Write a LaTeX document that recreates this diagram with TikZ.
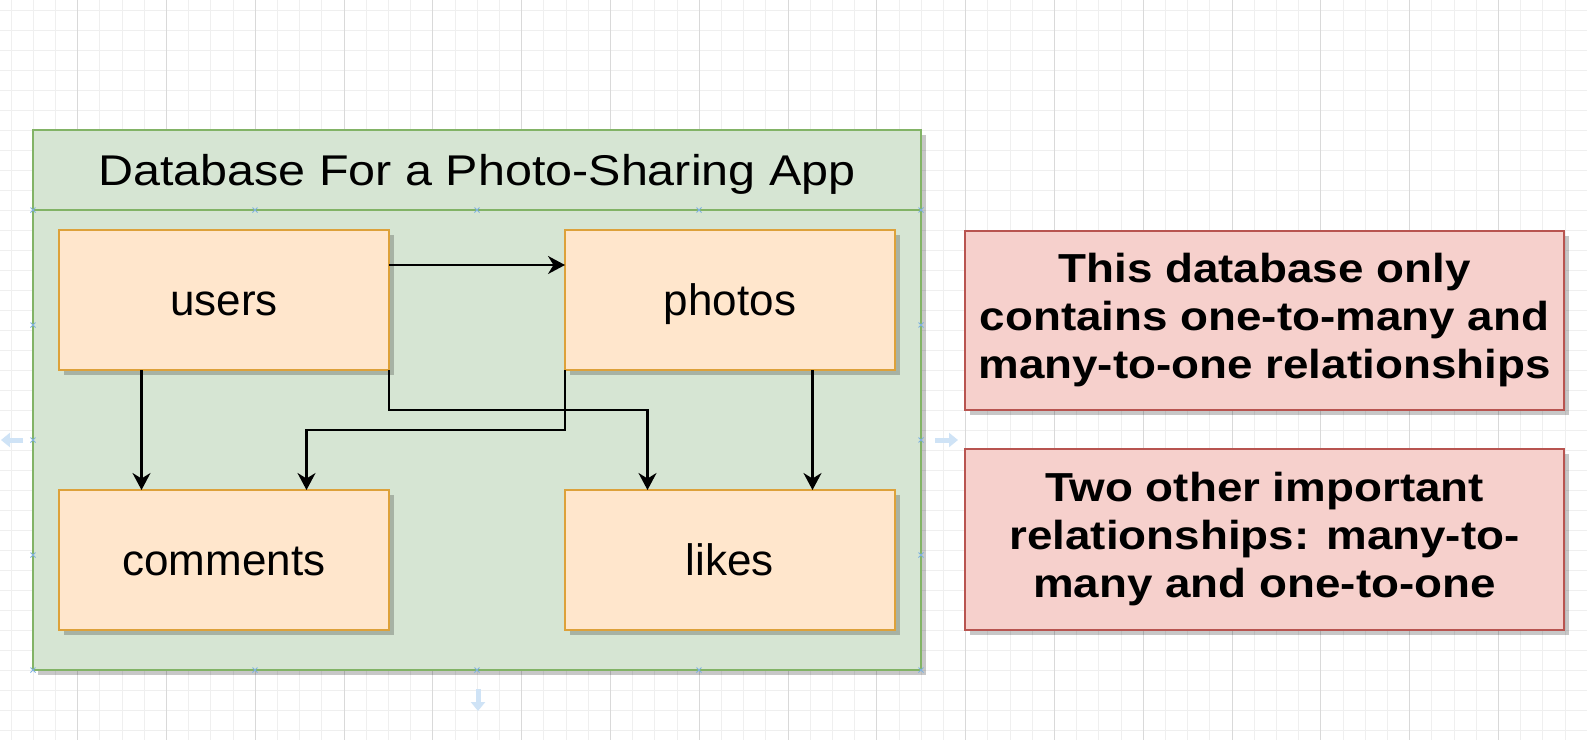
\documentclass[tikz,border=0pt]{standalone}
\usepackage{fontspec}
\setmainfont{Liberation Sans}
\newfontfamily\titlefont{Liberation Sans}[FakeStretch=1.127]
\newfontfamily\notefont{Liberation Sans}[FakeStretch=1.13]
\usetikzlibrary{arrows.meta,shadows}
\definecolor{gfill}{HTML}{D6E5D3}
\definecolor{gline}{HTML}{82B366}
\definecolor{ofill}{HTML}{FFE6CC}
\definecolor{oline}{HTML}{DDA13A}
\definecolor{rfill}{HTML}{F6D0CC}
\definecolor{rline}{HTML}{B85450}
\definecolor{gridmin}{HTML}{EFEFEF}
\definecolor{gridmaj}{HTML}{D9D9D9}
\definecolor{hoverblue}{HTML}{CFE3F6}
\definecolor{markblue}{HTML}{7FB2E0}
\begin{document}
\begin{tikzpicture}[x=1pt,y=-1pt,
  gridminor/.style={draw=gridmin, line width=1pt},
  gridmajor/.style={draw=gridmaj, line width=1pt},
  myshadow/.style={drop shadow={shadow xshift=5pt, shadow yshift=-5pt, fill=black, opacity=0.22}},
  container/.style={draw=gline, fill=gfill, line width=2pt, inner sep=0pt, outer sep=0pt, myshadow},
  titlebar/.style={draw=gline, fill=gfill, line width=2pt, inner sep=0pt, outer sep=0pt,
    font=\titlefont\fontsize{43}{52}\selectfont, text height=38.4pt, text depth=7pt},
  entity/.style={draw=oline, fill=ofill, line width=2pt, inner sep=0pt, outer sep=0pt,
    minimum width=330pt, minimum height=140pt, myshadow,
    font=\fontsize{44}{53}\selectfont, text height=38pt, text depth=8pt},
  note/.style={draw=rline, fill=rfill, line width=2pt, inner sep=0pt, outer sep=0pt,
    minimum width=599pt, myshadow, align=center,
    font=\notefont\bfseries\fontsize{40.5}{48}\selectfont},
  arr/.style={draw=black, line width=2.2pt, -{Stealth[length=17pt,width=18pt,inset=5.5pt]}},
  hover/.style={draw=hoverblue, line width=5pt, -{Triangle[length=9pt,width=14pt]}},
  markx/.style={draw=markblue, line width=0.9pt}
]
\useasboundingbox (0,0) rectangle (1587,740);
\fill[white] (0,0) rectangle (1587,740);
% grid
\foreach \i in {0,...,36} {\draw[gridminor] (0,10+20*\i) -- (1587,10+20*\i);}
\foreach \k in {-3,...,68} {\pgfmathsetmacro\xx{77.7+22.2*\k}\draw[gridminor] (\xx,0) -- (\xx,740);}
\foreach \m in {0,...,17} {\pgfmathsetmacro\xx{77.7+88.8*\m}\draw[gridmajor] (\xx,0) -- (\xx,740);}

% container
\node[container, minimum width=888pt, minimum height=540pt] (db) at (477,400) {};
\node[titlebar, minimum width=888pt, minimum height=80pt] (title) at (477,170) {Database For a Photo-Sharing App};

% connection point markers
\foreach \px/\py in {33/210,255/210,477/210,699/210,921/210,33/325,33/440,33/555,921/325,921/440,921/555,33/670,255/670,477/670,699/670,921/670}
  {\draw[markx] (\px-2.5,\py-2.5) -- (\px+2.5,\py+2.5) (\px-2.5,\py+2.5) -- (\px+2.5,\py-2.5);}

% hover arrows
\coordinate (hl0) at (23,440); \coordinate (hl1) at (1,440);
\coordinate (hr0) at (935,440); \coordinate (hr1) at (958,440);
\coordinate (hb0) at (478,689); \coordinate (hb1) at (478,711);
\draw[hover] (hl0) -- (hl1);
\draw[hover] (hr0) -- (hr1);
\draw[hover] (hb0) -- (hb1);

% entities
\node[entity] (users) at (224,300) {users};
\node[entity] (photos) at (730,300) {photos};
\node[entity] (comments) at (224,560) {comments};
\node[entity] (likes) at (730,560) {likes};

% connectors
\draw[arr] ([yshift=-35pt]users.north east) -- ([yshift=-35pt]photos.north west);
\draw[arr] ([xshift=82.5pt]users.south west) -- ([xshift=82.5pt]comments.north west);
\draw[arr] (users.south east) -- ++(0,40) -| ([xshift=82.5pt]likes.north west);
\draw[arr] (photos.south west) -- ++(0,60) -| ([xshift=247.5pt]comments.north west);
\draw[arr] ([xshift=247.5pt]photos.south west) -- ([xshift=247.5pt]likes.north west);

% notes
\node[note, minimum height=179pt] (note1) at (1264.5,320.5) {This database only\\contains one-to-many and\\many-to-one relationships};
\node[note, minimum height=181pt] (note2) at (1264.5,539.5) {Two other important\\relationships: many-to-\\many and one-to-one};
\end{tikzpicture}
\end{document}
